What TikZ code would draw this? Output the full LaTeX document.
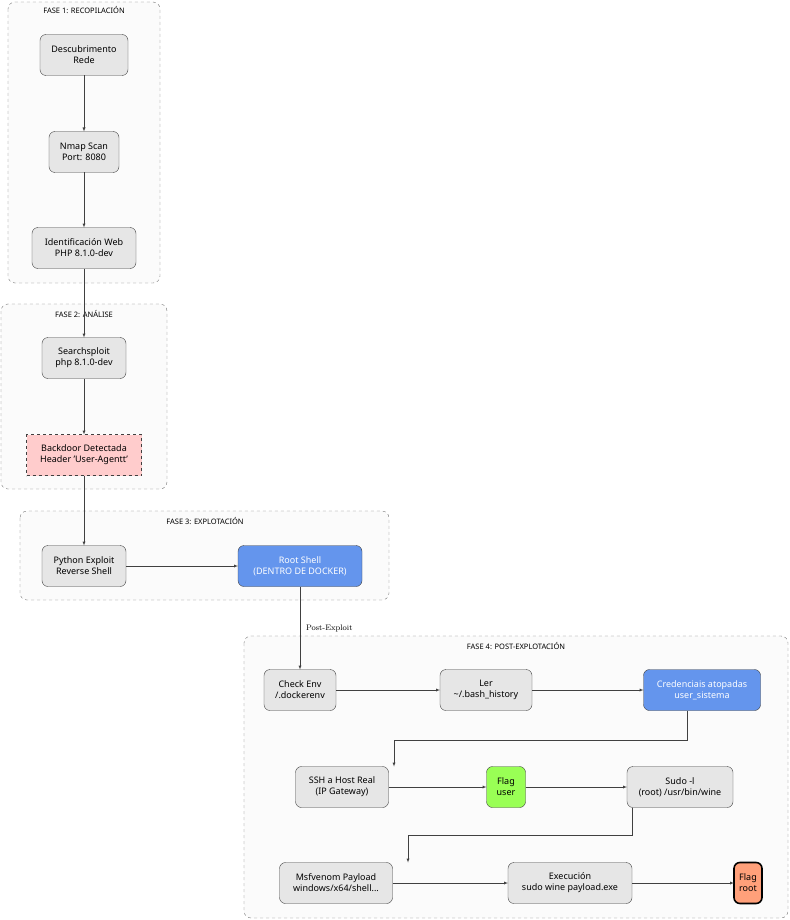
\documentclass[tikz,border=0pt]{standalone}
\usepackage{fontspec}
\setsansfont{Noto Sans}
\usetikzlibrary{positioning}
\definecolor{boxgray}{HTML}{E6E6E6}
\definecolor{shellblue}{HTML}{6495ED}
\definecolor{flaggreen}{HTML}{99FF55}
\definecolor{flagorange}{HTML}{FFA07A}
\definecolor{alertpink}{HTML}{FFCCCC}
\definecolor{clusterfill}{HTML}{FBFBFB}
\begin{document}
\begin{tikzpicture}
[x=1pt,y=-1pt,
 every node/.style={font=\sffamily\fontsize{9}{11}\selectfont,align=center,inner sep=0pt,outer sep=0pt},
 step box/.style={draw=black!75,fill=boxgray,rounded corners=6pt,minimum height=41pt},
 shell/.style={step box,fill=shellblue,text=white},
 flag/.style={step box,fill=flaggreen},
 alert/.style={step box,fill=alertpink,rounded corners=0pt,dashed},
 cluster/.style={draw=black!55,dashed,fill=clusterfill,rounded corners=7pt},
 ctitle/.style={font=\sffamily\fontsize{7.5}{9}\selectfont},
 flow/.style={-latex,draw=black!75}]
\useasboundingbox (0,0) rectangle (789,920);

% phase frames
\draw[cluster] (8,2) rectangle (160,283);
\node[ctitle] at (84,10) {FASE 1: RECOPILACIÓN};
\draw[cluster] (1,304) rectangle (167,489);
\node[ctitle] at (84,314) {FASE 2: ANÁLISE};
\draw[cluster] (20,511) rectangle (389,600);
\node[ctitle] at (205,521) {FASE 3: EXPLOTACIÓN};
\draw[cluster] (244,636) rectangle (788,918);
\node[ctitle] at (516,646) {FASE 4: POST-EXPLOTACIÓN};

\node[step box,minimum width=88pt] (disc) at (84,55)  {Descubrimento\\Rede};
\node[step box,minimum width=70pt] (nmap) at (84,152) {Nmap Scan\\Port: 8080};
\node[step box,minimum width=104pt] (web) at (84,248) {Identificación Web\\PHP 8.1.0-dev};
\node[step box,minimum width=84pt] (ssploit) at (84,358) {Searchsploit\\php 8.1.0-dev};
\node[alert,minimum width=115pt] (backdoor) at (84,455) {Backdoor Detectada\\Header 'User-Agentt'};
\node[step box,minimum width=84pt] (pyexp) at (84,566) {Python Exploit\\Reverse Shell};
\node[shell,minimum width=124pt] (root) at (300,566) {Root Shell\\(DENTRO DE DOCKER)};
\node[step box,minimum width=72pt] (env) at (300,690) {Check Env\\/.dockerenv};
\node[step box,minimum width=92pt] (hist) at (486,690) {Ler\\\textasciitilde/.bash\_history};
\node[shell,minimum width=117pt] (cred) at (702,690) {Credenciais atopadas\\user\_sistema};
\node[step box,minimum width=93pt] (ssh) at (342,787) {SSH a Host Real\\(IP Gateway)};
\node[flag,minimum width=39pt] (fuser) at (506,787) {Flag\\user};
\node[step box,minimum width=106pt] (sudo) at (680,787) {Sudo -l\\(root) /usr/bin/wine};
\node[step box,minimum width=113pt] (msf) at (336,883) {Msfvenom Payload\\windows/x64/shell...};
\node[step box,minimum width=124pt] (exec) at (570,883) {Execución\\sudo wine payload.exe};
\node[flag,fill=flagorange,line width=1.6pt,draw=black,minimum width=28pt] (froot) at (748,883) {Flag\\root};

\draw[flow] (disc) -- (nmap);
\draw[flow] (nmap) -- (web);
\draw[flow] (web) -- (ssploit);
\draw[flow] (ssploit) -- (backdoor);
\draw[flow] (backdoor) -- (pyexp);
\draw[flow] (pyexp) -- (root);
\draw[flow] (root) -- node[right=6pt,font=\rmfamily\fontsize{8}{10}\selectfont] {Post-Exploit} (env);
\draw[flow] (env) -- (hist);
\draw[flow] (hist) -- (cred);
\draw[flow] (cred.south -| 687,0) |- (394,740) -- (ssh.north -| 394,0);
\draw[flow] (ssh) -- (fuser);
\draw[flow] (fuser) -- (sudo);
\draw[flow] (sudo.south -| 632,0) |- (408,835) -- (msf.north -| 408,0);
\draw[flow] (msf) -- (exec);
\draw[flow] (exec) -- (froot);
\end{tikzpicture}
\end{document}
